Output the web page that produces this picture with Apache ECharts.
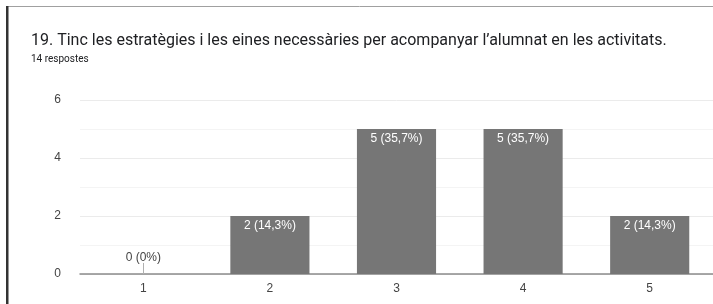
<!DOCTYPE html>
<html>
<head>
<meta charset="utf-8">
<script src="https://cdn.jsdelivr.net/npm/echarts@6/dist/echarts.min.js"></script>
<style>
  html, body { margin: 0; padding: 0; background: #fff; }
  #chart { width: 713px; height: 304px; }
</style>
</head>
<body>
<div id="chart"></div>
<script>
// dades
var categories = ['1', '2', '3', '4', '5'];
var counts = [0, 2, 5, 5, 2];
var totalResponses = 14;
var yTicks = [0, 2, 4, 6];

function pctLabel(v) {
	var p = Math.round(v / totalResponses * 1000) / 10;
	var s = (p % 1 === 0) ? String(p) : p.toFixed(1).replace('.', ',');
	return v + ' (' + s + '%)';
}

var chart = echarts.init(document.getElementById('chart'));

var barData = counts.map(function (v) {
	if (v === 0) {
		return {
			value: v,
			label: { position: 'top', distance: 10, color: '#444' }
		};
	}
	return v;
});

var option = {
	animation: false,
	textStyle: { fontFamily: 'Liberation Sans, Arial, sans-serif' },
	title: {
		text: '19. Tinc les estratègies i les eines necessàries per acompanyar l’alumnat en les activitats.',
		subtext: totalResponses + ' respostes',
		left: 26,
		top: 28,
		itemGap: 5,
		textStyle: { fontFamily: 'Roboto', fontSize: 16, fontWeight: 'normal', color: '#202124' },
		subtextStyle: { fontFamily: 'Roboto', fontSize: 10, color: '#202124' }
	},
	graphic: [
		{ type: 'line', shape: { x1: 6, y1: 6.5, x2: 713, y2: 6.5 }, style: { stroke: '#a0a0a0', lineWidth: 1 } },
		{ type: 'rect', shape: { x: 6, y: 6, width: 2.5, height: 298 }, style: { fill: '#333' } }
	],
	grid: { left: 80, top: 100, width: 640, height: 174 },
	xAxis: {
		type: 'category',
		data: categories,
		axisTick: { show: false },
		axisLine: { lineStyle: { color: '#8c8c8c', width: 1.5 } },
		axisLabel: { color: '#444', fontSize: 12, margin: 9 }
	},
	yAxis: {
		type: 'value',
		min: yTicks[0],
		max: yTicks[yTicks.length - 1],
		interval: 2,
		axisLabel: { color: '#444', fontSize: 12, margin: 19 },
		axisLine: { show: false },
		axisTick: { show: false },
		splitLine: { lineStyle: { color: '#ebebeb', width: 1 } },
		minorTick: { show: false, splitNumber: 2 },
		minorSplitLine: { show: true, lineStyle: { color: '#f4f4f4', width: 1 } }
	},
	series: [{
		type: 'bar',
		data: barData,
		barWidth: '62.5%',
		itemStyle: { color: '#767676' },
		label: {
			show: true,
			position: 'insideTop',
			distance: 4,
			color: '#fff',
			fontSize: 12,
			formatter: function (p) { return pctLabel(p.value); }
		},
		markLine: {
			silent: true,
			symbol: 'none',
			label: { show: false },
			lineStyle: { color: '#b0b0b0', type: 'solid', width: 1 },
			data: [[{ coord: [categories[0], 0] }, { coord: [categories[0], 0.38] }]]
		}
	}]
};
chart.setOption(option);
</script>
</body>
</html>
